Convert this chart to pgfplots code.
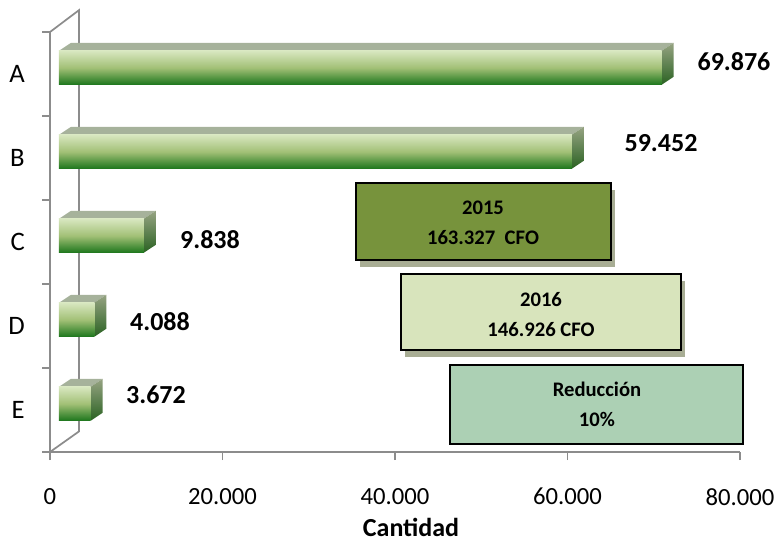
\documentclass[border=0pt]{standalone}
\usepackage{pgfplots}
\pgfplotsset{compat=1.18}
\usepackage{pgfplotstable}
\usepackage{fontspec}
\setmainfont{Carlito}
\definecolor{axisgray}{RGB}{140,140,140}
\definecolor{fTop}{RGB}{216,231,192}
\definecolor{fMid}{RGB}{162,192,118}
\definecolor{fBot}{RGB}{28,118,28}
\definecolor{tFace}{RGB}{166,178,155}
\definecolor{sTop}{RGB}{150,163,130}
\definecolor{sBot}{RGB}{42,98,34}
\definecolor{boxA}{RGB}{119,147,60}
\definecolor{boxB}{RGB}{216,228,188}
\definecolor{boxC}{RGB}{172,208,180}
\definecolor{shad}{RGB}{168,173,148}

% values in thousands (69.876 = 69.876 units)
\pgfplotstableread{
v c
69.876 4.5
59.452 3.5
9.838 2.5
4.088 1.5
3.672 0.5
}\bars

\pgfplotstableread{
x y lab
79.304 4.643 69.876
70.841 3.679 59.452
18.551 2.524 9.838
12.754 1.548 4.088
12.290 0.679 3.672
}\labs

\begin{document}
\begin{tikzpicture}
\begin{axis}[
  at={(37.5pt,-339pt)}, anchor=south west,
  scale only axis, width=517.5pt, height=315pt,
  xmin=0, xmax=80, ymin=0, ymax=5,
  clip=false,
  axis x line*=bottom, axis y line*=left,
  axis line style={draw=axisgray, line width=1.3pt, -},
  tick align=outside, major tick length=6pt,
  xtick={0,20,40,60,80},
  xticklabels={0,20.000,40.000,60.000,80.000},
  xtick style={draw=axisgray, line width=1.3pt},
  ytick={0.5,1.5,2.5,3.5,4.5},
  yticklabels={E,D,C,B,A},
  ytick style={draw=none},
  tick label style={font=\fontsize{18.5}{21}\selectfont, text=black},
  xticklabel style={anchor=north, inner sep=0pt, yshift=-21pt},
  yticklabel style={anchor=east, inner sep=0pt, xshift=-12.75pt, font=\fontsize{20}{22}\selectfont},
]
% 3D frame (back wall)
\draw[axisgray, line width=1.3pt] (axis cs:0,5) -- (axis cs:3.362,5.26) -- (axis cs:3.362,0.245) -- (axis cs:0,0);
\pgfplotsinvokeforeach{0,...,5}{\draw[axisgray, line width=1.3pt] (axis cs:0,#1) -- ++(-6pt,0);}

% bars
\pgfplotsinvokeforeach{0,...,4}{
  \pgfplotstablegetelem{#1}{v}\of\bars \edef\vv{\pgfplotsretval}
  \pgfplotstablegetelem{#1}{c}\of\bars \edef\cc{\pgfplotsretval}
  \pgfmathsetmacro\xa{1.043}
  \pgfmathsetmacro\xb{\vv+1.043}
  \pgfmathsetmacro\xc{\vv+1.043+1.391}
  \pgfmathsetmacro\xd{1.043+1.391}
  \pgfmathsetmacro\ya{\cc+0.074-0.202}
  \pgfmathsetmacro\yb{\cc+0.074+0.202}
  \pgfmathsetmacro\yc{\yb+0.095}
  \pgfmathsetmacro\yd{\ya+0.095}
  \edef\temp{%
    \noexpand\addplot[draw=none, fill=tFace] coordinates {(\xa,\yb) (\xb,\yb) (\xc,\yc) (\xd,\yc)};
    \noexpand\addplot[draw=none, top color=sTop, bottom color=sBot] coordinates {(\xb,\ya) (\xc,\yd) (\xc,\yc) (\xb,\yb)};
    \noexpand\addplot[draw=none, top color=fTop, bottom color=fBot, middle color=fMid] coordinates {(\xa,\ya) (\xb,\ya) (\xb,\yb) (\xa,\yb)};
  }\temp
}

% value labels
\addplot[only marks, mark=*, mark size=0.01pt, mark options={draw=none, fill=none},
  nodes near coords, point meta=explicit symbolic,
  every node near coord/.append style={anchor=center, font=\bfseries\fontsize{19.5}{22}\selectfont, text=black}]
  table[x=x, y=y, meta=lab] {\labs};

\node[font=\bfseries\fontsize{19.5}{22}\selectfont] at (axis cs:41.86,-0.893) {Cantidad};
\end{axis}

\begin{scope}[x=0.75pt, y=-0.75pt]
\path (0,0) rectangle (779,540);
% box 2015
\fill[shad] (360,190) rectangle (615,267);
\draw[line width=1.6pt, fill=boxA] (356,183) rectangle (611,260);
\node[font=\bfseries\fontsize{15.5}{18}\selectfont] at (483,208) {2015};
\node[font=\bfseries\fontsize{15.5}{18}\selectfont] at (483,238) {163.327\ \ CFO};
% box 2016
\fill[shad] (405,281) rectangle (685,357);
\draw[line width=1.6pt, fill=boxB] (401,274) rectangle (681,350);
\node[font=\bfseries\fontsize{15.5}{18}\selectfont] at (541,300) {2016};
\node[font=\bfseries\fontsize{15.5}{18}\selectfont] at (541,330) {146.926 CFO};
% box reduccion
\draw[line width=0.9pt, fill=boxC] (450,365) rectangle (743,444);
\node[font=\bfseries\fontsize{15.5}{18}\selectfont] at (597,389) {Reducción};
\node[font=\bfseries\fontsize{15.5}{18}\selectfont] at (597,419) {10\%};
\end{scope}
\end{tikzpicture}
\end{document}
